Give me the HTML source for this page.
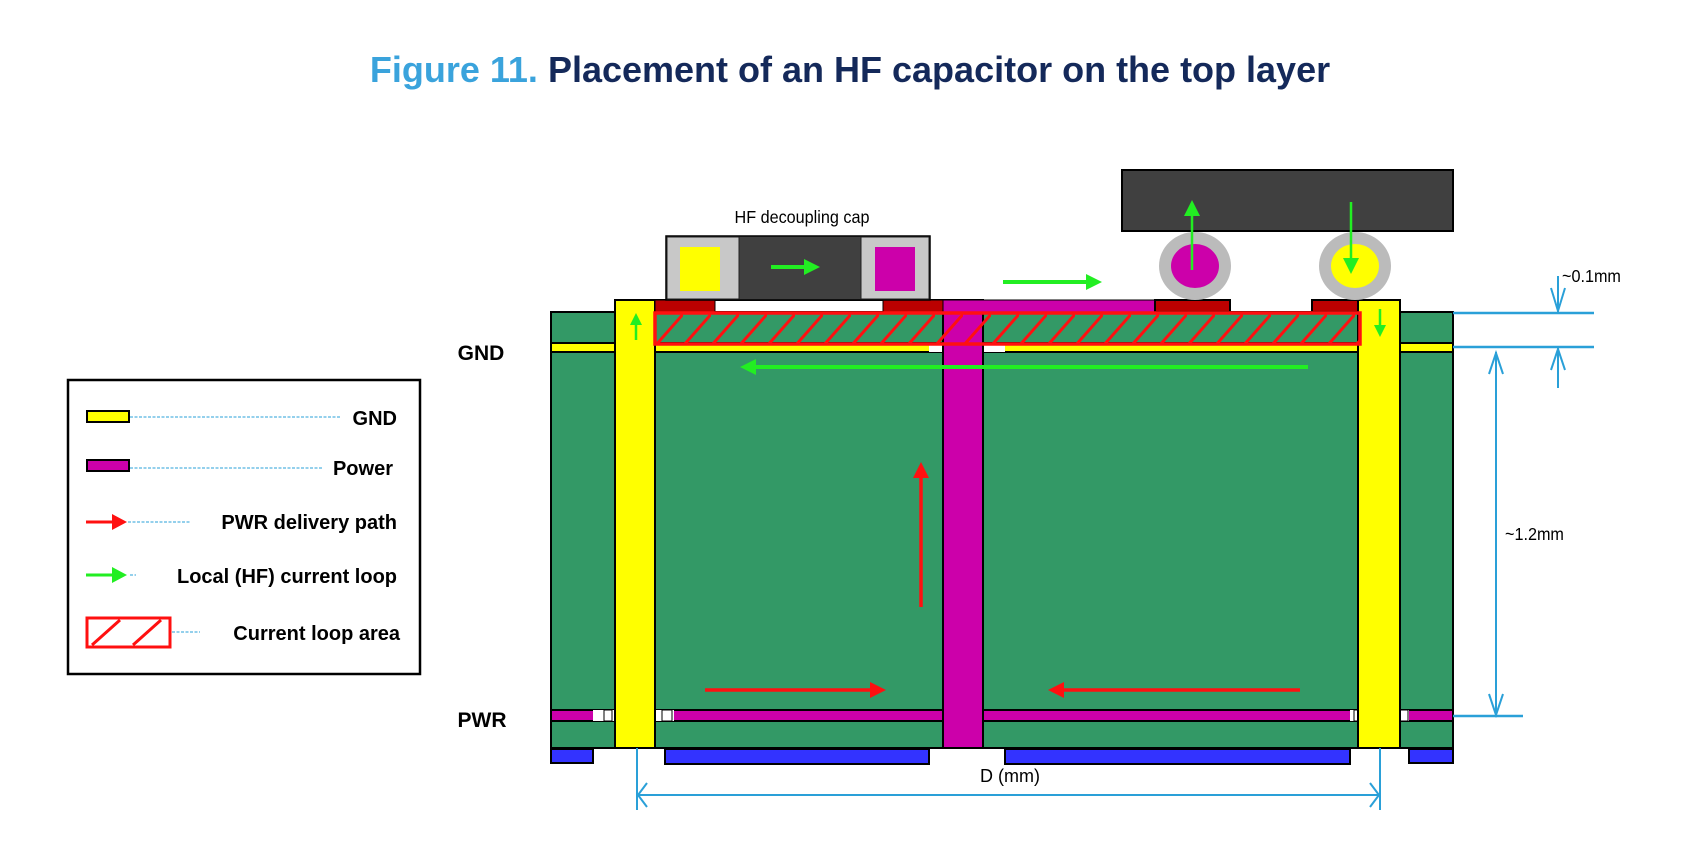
<!DOCTYPE html>
<html><head><meta charset="utf-8"><style>
html,body{margin:0;padding:0;background:#fff;width:1700px;height:848px;overflow:hidden}
svg{display:block}
text{font-family:"Liberation Sans",Arial,sans-serif}
</style></head><body>
<svg width="1700" height="848" viewBox="0 0 1700 848" xmlns="http://www.w3.org/2000/svg">
<defs>
<marker id="g" markerWidth="16" markerHeight="16" refX="4" refY="8" orient="auto" markerUnits="userSpaceOnUse"><path d="M0,0 L16,8 L0,16 Z" fill="#22ee22"/></marker>
<marker id="gs" markerWidth="12" markerHeight="12" refX="3" refY="6" orient="auto" markerUnits="userSpaceOnUse"><path d="M0,0 L12,6 L0,12 Z" fill="#22ee22"/></marker>
<marker id="r" markerWidth="16" markerHeight="16" refX="4" refY="8" orient="auto" markerUnits="userSpaceOnUse"><path d="M0,0 L16,8 L0,16 Z" fill="#ff1010"/></marker>
<pattern id="h" width="28" height="40" patternUnits="userSpaceOnUse" patternTransform="translate(655,312)"><line x1="0" y1="34" x2="30" y2="0" stroke="#ff1010" stroke-width="3"/></pattern>
</defs>
<text x="850" y="82" text-anchor="middle" font-size="36" font-weight="bold"><tspan fill="#3aa3dc">Figure 11.</tspan><tspan fill="#14295a"> Placement of an HF capacitor on the top layer</tspan></text>

<rect x="551" y="312" width="902" height="436" fill="#339966" stroke="#000" stroke-width="2"/>
<rect x="551" y="343" width="902" height="9" fill="#ffff00" stroke="#000" stroke-width="2"/>
<rect x="929" y="343" width="76" height="9" fill="#fff"/>
<rect x="551" y="710" width="902" height="11" fill="#cc00aa" stroke="#000" stroke-width="2"/>
<rect x="593" y="710" width="81" height="11" fill="#fff"/>
<rect x="1350" y="710" width="59" height="11" fill="#fff"/>
<rect x="604" y="710" width="8" height="11" fill="#fff" stroke="#000"/><rect x="662" y="710" width="10" height="11" fill="#fff" stroke="#000"/>
<rect x="1354" y="710" width="6" height="11" fill="#fff" stroke="#000"/><rect x="1400" y="710" width="8" height="11" fill="#fff" stroke="#000"/>
<rect x="615" y="300" width="40" height="448" fill="#ffff00" stroke="#000" stroke-width="2"/>
<rect x="1358" y="300" width="42" height="448" fill="#ffff00" stroke="#000" stroke-width="2"/>
<rect x="943" y="300" width="40" height="448" fill="#cc00aa" stroke="#000" stroke-width="2"/>
<rect x="655" y="300" width="288" height="12" fill="#fff" stroke="#000" stroke-width="2"/>
<rect x="655" y="300" width="60" height="12" fill="#bb0000" stroke="#000" stroke-width="1"/>
<rect x="883" y="300" width="60" height="12" fill="#bb0000" stroke="#000" stroke-width="1"/>
<rect x="943" y="300" width="212" height="12" fill="#cc00aa" stroke="#000" stroke-width="1"/>
<rect x="1155" y="300" width="75" height="12" fill="#bb0000" stroke="#000" stroke-width="2"/>
<rect x="1312" y="300" width="46" height="12" fill="#bb0000" stroke="#000" stroke-width="2"/>
<rect x="655" y="313" width="705" height="31" fill="url(#h)" stroke="#ff1010" stroke-width="3.5"/>
<rect x="551" y="749" width="42" height="14" fill="#3333ff" stroke="#000" stroke-width="2"/>
<rect x="665" y="749" width="264" height="15" fill="#3333ff" stroke="#000" stroke-width="2"/>
<rect x="1005" y="749" width="345" height="15" fill="#3333ff" stroke="#000" stroke-width="2"/>
<rect x="1409" y="749" width="44" height="14" fill="#3333ff" stroke="#000" stroke-width="2"/>
<text x="802" y="223" text-anchor="middle" font-size="18" transform="translate(802,0) scale(0.9,1) translate(-802,0)">HF decoupling cap</text>
<rect x="666" y="236" width="264" height="64" fill="#404040" stroke="#000" stroke-width="1.5"/>
<rect x="667" y="237" width="72" height="62" fill="#c8c8c8" stroke="#222"/>
<rect x="861" y="237" width="68" height="62" fill="#c8c8c8" stroke="#222"/>
<rect x="680" y="247" width="40" height="44" fill="#ffff00"/>
<rect x="875" y="247" width="40" height="44" fill="#cc00aa"/>
<rect x="1122" y="170" width="331" height="61" fill="#404040" stroke="#000" stroke-width="2"/>
<ellipse cx="1195" cy="266" rx="36" ry="34" fill="#bbbbbb"/>
<ellipse cx="1195" cy="266" rx="24" ry="22" fill="#cc00aa"/>
<ellipse cx="1355" cy="266" rx="36" ry="34" fill="#bbbbbb"/>
<ellipse cx="1355" cy="266" rx="24" ry="22" fill="#ffff00"/>
<g stroke="#22ee22" stroke-width="4" fill="none">
<line x1="771" y1="267" x2="808" y2="267" marker-end="url(#g)"/>
<line x1="1003" y1="282" x2="1090" y2="282" marker-end="url(#g)"/>
<line x1="1308" y1="367" x2="752" y2="367" marker-end="url(#g)"/>
<line x1="1192" y1="270" x2="1192" y2="212" stroke-width="2.5" marker-end="url(#g)"/>
<line x1="1351" y1="202" x2="1351" y2="262" stroke-width="2.5" marker-end="url(#g)"/>
<line x1="636" y1="340" x2="636" y2="322" stroke-width="2.5" marker-end="url(#gs)"/>
<line x1="1380" y1="309" x2="1380" y2="328" stroke-width="2.5" marker-end="url(#gs)"/>
</g>
<g stroke="#ff1010" stroke-width="3.5" fill="none">
<line x1="921" y1="607" x2="921" y2="474" marker-end="url(#r)"/>
<line x1="705" y1="690" x2="874" y2="690" marker-end="url(#r)"/>
<line x1="1300" y1="690" x2="1060" y2="690" marker-end="url(#r)"/>
</g>
<text x="481" y="360" text-anchor="middle" font-size="21" font-weight="bold">GND</text>
<text x="482" y="727" text-anchor="middle" font-size="21" font-weight="bold">PWR</text>
<g stroke="#2aa0d8" stroke-width="2" fill="none">
<line x1="1453" y1="313" x2="1594" y2="313" stroke-width="2.5"/>
<line x1="1453" y1="347" x2="1594" y2="347" stroke-width="2.5"/>
<line x1="1558" y1="276" x2="1558" y2="313"/><path d="M1551,288 L1558,311 L1565,288"/>
<line x1="1558" y1="347" x2="1558" y2="388"/><path d="M1551,370 L1558,349 L1565,370"/>
<line x1="1496" y1="352" x2="1496" y2="716"/>
<path d="M1489,374 L1496,353 L1503,374"/><path d="M1489,694 L1496,715 L1503,694"/>
<line x1="1453" y1="716" x2="1523" y2="716" stroke-width="2.5"/>
<line x1="637" y1="748" x2="637" y2="810"/><line x1="1380" y1="748" x2="1380" y2="810"/>
<line x1="638" y1="795" x2="1379" y2="795"/>
<path d="M647,783 L638,795 L647,807"/><path d="M1370,783 L1379,795 L1370,807"/>
</g>
<text x="1562" y="282" font-size="18" fill="#000" transform="translate(1562,0) scale(0.9,1) translate(-1562,0)">~0.1mm</text>
<text x="1505" y="540" font-size="18" fill="#000" transform="translate(1505,0) scale(0.9,1) translate(-1505,0)">~1.2mm</text>
<text x="1010" y="782" text-anchor="middle" font-size="18" fill="#000">D (mm)</text>
<rect x="68" y="380" width="352" height="294" fill="#fff" stroke="#000" stroke-width="2.5"/>
<g stroke="#2aa0d8" stroke-width="1" stroke-dasharray="3,1.5">
<line x1="130" y1="417" x2="340" y2="417"/>
<line x1="130" y1="468" x2="322" y2="468"/>
<line x1="128" y1="522" x2="190" y2="522"/>
<line x1="130" y1="575" x2="136" y2="575"/>
<line x1="172" y1="632" x2="200" y2="632"/>
</g>
<rect x="87" y="411" width="42" height="11" fill="#ffff00" stroke="#000" stroke-width="2"/>
<rect x="87" y="460" width="42" height="11" fill="#cc00aa" stroke="#000" stroke-width="2"/>
<line x1="86" y1="522" x2="116" y2="522" stroke="#ff1010" stroke-width="3"/><path d="M112,514 L127,522 L112,530Z" fill="#ff1010"/>
<line x1="86" y1="575" x2="116" y2="575" stroke="#22ee22" stroke-width="3"/><path d="M112,567 L127,575 L112,583Z" fill="#22ee22"/>
<rect x="87" y="618" width="83" height="29" fill="#fff" stroke="#ff1010" stroke-width="3"/>
<path d="M92,645 L120,620 M133,645 L161,620" stroke="#ff1010" stroke-width="3"/>
<g font-size="20" font-weight="bold" fill="#000">
<text x="397" y="425" text-anchor="end">GND</text>
<text x="393" y="475" text-anchor="end">Power</text>
<text x="397" y="529" text-anchor="end">PWR delivery path</text>
<text x="397" y="583" text-anchor="end">Local (HF) current loop</text>
<text x="400" y="640" text-anchor="end">Current loop area</text>
</g>
</svg>
</body></html>
